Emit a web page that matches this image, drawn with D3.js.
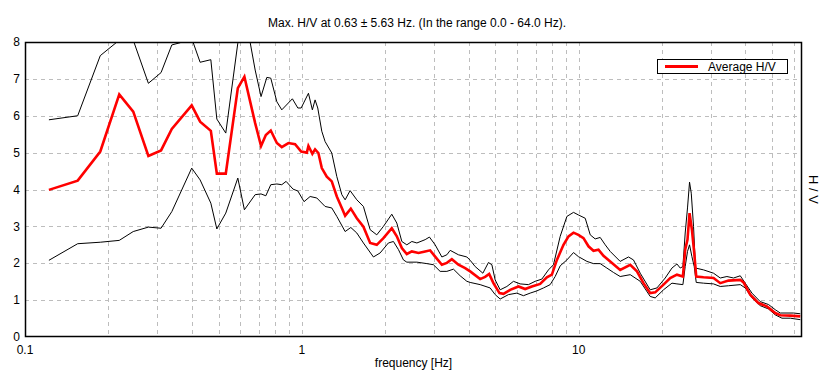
<!DOCTYPE html>
<html>
<head>
<meta charset="utf-8">
<script src="https://cdn.jsdelivr.net/npm/d3@7"></script>
<style>
  body { margin: 0; background: #fff; }
  text { font-family: "Liberation Sans", Arial, sans-serif; fill: #000; }
</style>
</head>
<body>
<div id="container"></div>
<script>
/* CONSTANTS AND GLOBALS */
const width = 826;
const height = 381;
const margin = { top: 42, right: 24, bottom: 44, left: 25 };

/* DATA */
const avgFreq = [0.122, 0.155, 0.187, 0.219, 0.246, 0.279, 0.310, 0.339, 0.400, 0.429, 0.469, 0.493, 0.531, 0.587, 0.620, 0.678, 0.712, 0.741, 0.772, 0.812, 0.846, 0.894, 0.945, 0.994, 1.042, 1.056, 1.091, 1.116, 1.147, 1.180, 1.230, 1.282, 1.337, 1.394, 1.433, 1.502, 1.579, 1.668, 1.764, 1.864, 1.970, 2.112, 2.202, 2.296, 2.393, 2.495, 2.637, 2.787, 2.905, 3.029, 3.203, 3.339, 3.480, 3.676, 3.887, 4.053, 4.404, 4.590, 4.746, 4.918, 5.171, 5.346, 5.652, 6.056, 6.402, 6.769, 7.253, 7.669, 7.995, 8.337, 8.806, 9.181, 9.571, 9.97, 10.40, 10.84, 11.30, 11.78, 12.28, 12.99, 14.11, 15.34, 16.22, 17.13, 18.11, 18.88, 20.23, 21.39, 22.62, 23.77, 24.23, 24.70, 25.12, 25.62, 26.12, 26.56, 28.22, 30.67, 32.43, 34.74, 38.30, 39.36, 41.62, 44.59, 47.8, 51.24, 53.42, 58.05, 63.09];
const avgHV = [3.99, 4.24, 5.03, 6.58, 6.11, 4.91, 5.06, 5.64, 6.28, 5.84, 5.59, 4.43, 4.43, 6.75, 7.06, 5.80, 5.18, 5.48, 5.60, 5.26, 5.15, 5.26, 5.23, 5.03, 5.00, 5.18, 4.97, 5.09, 4.99, 4.58, 4.35, 4.22, 3.81, 3.50, 3.29, 3.48, 3.22, 2.99, 2.55, 2.50, 2.68, 2.95, 2.73, 2.41, 2.25, 2.32, 2.28, 2.32, 2.35, 2.18, 1.96, 2.01, 2.11, 1.96, 1.87, 1.78, 1.57, 1.63, 1.71, 1.46, 1.19, 1.17, 1.28, 1.37, 1.30, 1.37, 1.44, 1.62, 1.69, 2.09, 2.50, 2.73, 2.83, 2.77, 2.68, 2.46, 2.34, 2.37, 2.20, 2.05, 1.82, 1.96, 1.78, 1.46, 1.19, 1.21, 1.42, 1.60, 1.69, 1.64, 2.37, 2.64, 3.36, 2.91, 2.28, 1.64, 1.62, 1.60, 1.46, 1.53, 1.55, 1.48, 1.15, 0.92, 0.83, 0.65, 0.59, 0.58, 0.56];

const upperFreq = [0.122, 0.155, 0.187, 0.219, 0.246, 0.279, 0.310, 0.339, 0.363, 0.400, 0.429, 0.469, 0.493, 0.531, 0.587, 0.620, 0.678, 0.712, 0.747, 0.772, 0.812, 0.846, 0.924, 0.967, 0.994, 1.056, 1.091, 1.116, 1.141, 1.180, 1.213, 1.282, 1.337, 1.394, 1.433, 1.493, 1.579, 1.668, 1.764, 1.864, 1.970, 2.112, 2.202, 2.296, 2.393, 2.495, 2.602, 2.787, 2.888, 3.029, 3.203, 3.339, 3.432, 3.676, 3.943, 4.053, 4.225, 4.504, 4.718, 4.854, 4.989, 5.201, 5.499, 5.810, 6.142, 6.580, 6.957, 7.356, 7.772, 8.103, 8.568, 9.059, 9.571, 9.97, 10.55, 11.0, 11.46, 11.95, 12.46, 12.99, 14.11, 15.12, 15.76, 16.67, 18.11, 19.15, 20.52, 21.70, 22.62, 23.25, 23.77, 24.23, 24.70, 25.12, 25.48, 25.97, 26.40, 28.22, 30.67, 32.43, 34.28, 36.22, 38.30, 39.92, 42.21, 45.22, 48.46, 51.24, 53.42, 59.67, 63.09];
const upperHV = [5.89, 6.00, 7.63, 8.05, 8.05, 6.88, 7.17, 7.92, 7.98, 8.10, 7.45, 7.52, 5.91, 5.53, 7.97, 8.85, 7.24, 6.52, 7.04, 7.02, 6.38, 6.16, 6.46, 6.21, 6.21, 6.61, 6.16, 6.43, 6.21, 5.58, 5.30, 4.99, 4.35, 3.86, 3.72, 3.97, 3.72, 3.54, 2.91, 2.77, 3.00, 3.33, 3.09, 2.59, 2.50, 2.59, 2.55, 2.64, 2.71, 2.50, 2.17, 2.23, 2.35, 2.23, 2.17, 2.08, 1.91, 1.73, 2.02, 1.96, 1.55, 1.28, 1.37, 1.51, 1.44, 1.42, 1.51, 1.57, 1.82, 1.96, 2.73, 3.27, 3.38, 3.31, 3.22, 2.77, 2.66, 2.70, 2.50, 2.32, 2.05, 2.17, 2.09, 1.73, 1.28, 1.33, 1.60, 1.87, 1.98, 1.87, 1.91, 2.82, 3.50, 4.20, 3.90, 3.00, 1.87, 1.82, 1.73, 1.60, 1.64, 1.60, 1.66, 1.46, 1.19, 0.96, 0.88, 0.74, 0.65, 0.65, 0.63];

const lowerFreq = [0.122, 0.155, 0.187, 0.219, 0.246, 0.279, 0.310, 0.339, 0.400, 0.429, 0.469, 0.493, 0.531, 0.587, 0.620, 0.678, 0.712, 0.741, 0.772, 0.812, 0.846, 0.877, 0.929, 0.967, 1.018, 1.071, 1.132, 1.213, 1.282, 1.337, 1.433, 1.502, 1.579, 1.668, 1.813, 1.917, 2.053, 2.141, 2.232, 2.327, 2.393, 2.602, 2.827, 2.986, 3.157, 3.339, 3.527, 3.729, 3.943, 4.053, 4.404, 4.786, 4.989, 5.201, 5.573, 5.976, 6.312, 6.674, 7.057, 7.455, 7.882, 8.217, 8.568, 9.059, 9.571, 9.97, 10.70, 11.30, 11.95, 12.63, 13.35, 14.11, 15.34, 16.67, 18.11, 18.88, 20.23, 21.70, 22.62, 23.77, 24.23, 24.70, 25.12, 25.62, 26.12, 26.56, 28.22, 30.67, 32.43, 34.74, 38.30, 39.92, 42.21, 45.22, 48.46, 51.24, 54.18, 58.05, 63.09];
const lowerHV = [2.08, 2.53, 2.57, 2.62, 2.86, 2.98, 2.95, 3.40, 4.58, 4.26, 3.63, 2.93, 3.36, 4.31, 3.45, 3.86, 3.88, 3.83, 4.13, 4.15, 4.13, 4.22, 4.01, 3.96, 3.67, 3.81, 3.77, 3.54, 3.50, 3.27, 2.86, 2.97, 2.82, 2.55, 2.17, 2.28, 2.55, 2.59, 2.37, 2.09, 2.03, 2.03, 1.99, 1.96, 1.78, 1.78, 1.84, 1.66, 1.51, 1.48, 1.42, 1.33, 1.15, 1.03, 1.15, 1.19, 1.12, 1.19, 1.25, 1.33, 1.42, 1.64, 1.93, 2.09, 2.29, 2.18, 2.05, 1.99, 1.99, 1.87, 1.75, 1.64, 1.69, 1.51, 1.10, 1.06, 1.28, 1.46, 1.44, 1.42, 1.91, 2.32, 2.50, 2.18, 1.91, 1.48, 1.46, 1.44, 1.37, 1.39, 1.42, 1.33, 1.06, 0.85, 0.76, 0.60, 0.51, 0.51, 0.47];

const xTicks = [0.1, 1, 10];
const xGrid = [0.2, 0.3, 0.4, 0.5, 0.6, 0.7, 0.8, 0.9, 1, 2, 3, 4, 5, 6, 7, 8, 9, 10, 20, 30, 40, 50, 60];
const yTicks = [0, 1, 2, 3, 4, 5, 6, 7, 8];

const titleText = "Max. H/V at 0.63 \u00b1 5.63 Hz. (In the range 0.0 - 64.0 Hz).";

/* SCALES */
const xScale = d3.scaleLog()
  .domain([0.1, 64])
  .range([margin.left, width - margin.right]);

const yScale = d3.scaleLinear()
  .domain([0, 8])
  .range([height - margin.bottom, margin.top]);

/* HTML ELEMENTS */
const svg = d3.select("#container")
  .append("svg")
  .attr("width", width)
  .attr("height", height);

svg.append("defs").append("clipPath")
  .attr("id", "plot-clip")
  .append("rect")
  .attr("x", margin.left)
  .attr("y", margin.top)
  .attr("width", width - margin.left - margin.right)
  .attr("height", height - margin.top - margin.bottom);

// grid
svg.append("g")
  .attr("class", "grid")
  .selectAll("line.v")
  .data(xGrid)
  .join("line")
  .attr("x1", d => Math.round(xScale(d)) + 0.5)
  .attr("x2", d => Math.round(xScale(d)) + 0.5)
  .attr("y1", margin.top)
  .attr("y2", height - margin.bottom)
  .attr("stroke", "#bdbdbd")
  .attr("stroke-dasharray", "4,4");

svg.append("g")
  .attr("class", "grid")
  .selectAll("line")
  .data(yTicks.slice(1, -1))
  .join("line")
  .attr("x1", margin.left)
  .attr("x2", width - margin.right)
  .attr("y1", d => Math.round(yScale(d)) + 0.5)
  .attr("y2", d => Math.round(yScale(d)) + 0.5)
  .attr("stroke", "#bdbdbd")
  .attr("stroke-dasharray", "4,4");

// curves
const line = d3.line()
  .x(d => xScale(d[0]))
  .y(d => yScale(d[1]));

const plot = svg.append("g").attr("clip-path", "url(#plot-clip)");

plot.append("path")
  .datum(upperFreq.map((f, i) => [f, upperHV[i]]))
  .attr("d", line)
  .attr("fill", "none")
  .attr("stroke", "#000")
  .attr("stroke-width", 1);

plot.append("path")
  .datum(lowerFreq.map((f, i) => [f, lowerHV[i]]))
  .attr("d", line)
  .attr("fill", "none")
  .attr("stroke", "#000")
  .attr("stroke-width", 1);

plot.append("path")
  .datum(avgFreq.map((f, i) => [f, avgHV[i]]))
  .attr("d", line)
  .attr("fill", "none")
  .attr("stroke", "#ff0000")
  .attr("stroke-width", 2.6);

// frame
svg.append("rect")
  .attr("x", margin.left + 0.5)
  .attr("y", margin.top + 0.5)
  .attr("width", width - margin.left - margin.right - 1)
  .attr("height", height - margin.top - margin.bottom - 1)
  .attr("fill", "none")
  .attr("stroke", "#000")
  .attr("stroke-width", 1.5);

// tick labels
svg.append("g")
  .selectAll("text")
  .data(yTicks)
  .join("text")
  .attr("x", margin.left - 5)
  .attr("y", d => yScale(d))
  .attr("dy", "0.35em")
  .attr("text-anchor", "end")
  .style("font-size", "12px")
  .text(d => d);

svg.append("g")
  .selectAll("text")
  .data(xTicks)
  .join("text")
  .attr("x", d => xScale(d))
  .attr("y", height - margin.bottom + 17)
  .attr("text-anchor", "middle")
  .style("font-size", "12px")
  .text(d => d);

// titles
svg.append("text")
  .attr("x", 417)
  .attr("y", 27)
  .attr("text-anchor", "middle")
  .style("font-size", "12px")
  .text(titleText);

svg.append("text")
  .attr("x", (margin.left + width - margin.right) / 2)
  .attr("y", height - margin.bottom + 30)
  .attr("text-anchor", "middle")
  .style("font-size", "12px")
  .text("frequency [Hz]");

svg.append("text")
  .attr("transform", `translate(${width - 17},${(margin.top + height - margin.bottom) / 2}) rotate(90)`)
  .attr("text-anchor", "middle")
  .style("font-size", "13px")
  .text("H / V");

// legend
const legend = svg.append("g").attr("transform", "translate(657,59)");
legend.append("rect")
  .attr("x", 0.5)
  .attr("y", 0.5)
  .attr("width", 130)
  .attr("height", 14)
  .attr("fill", "#fff")
  .attr("stroke", "#000");
legend.append("line")
  .attr("x1", 8)
  .attr("x2", 41)
  .attr("y1", 7.5)
  .attr("y2", 7.5)
  .attr("stroke", "#ff0000")
  .attr("stroke-width", 3);
legend.append("text")
  .attr("x", 51)
  .attr("y", 11.5)
  .style("font-size", "12px")
  .text("Average H/V");
</script>
</body>
</html>
